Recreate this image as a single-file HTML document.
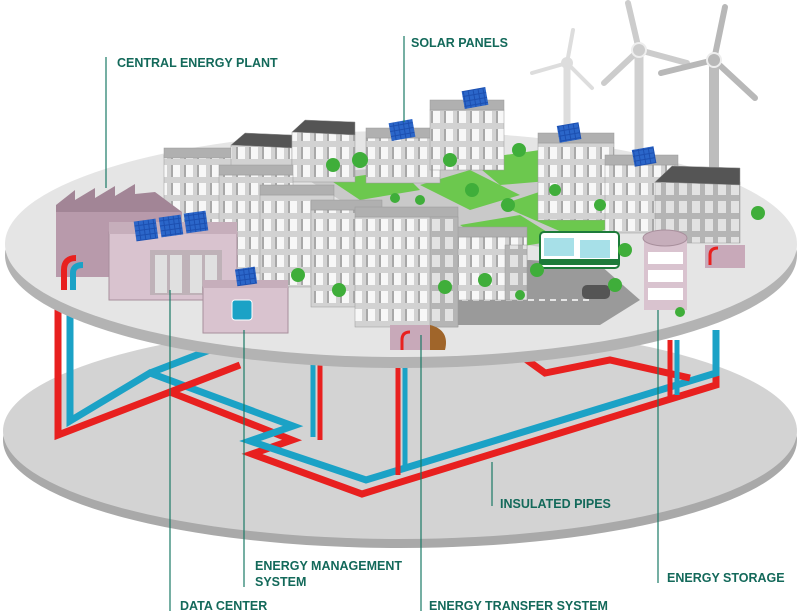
<!DOCTYPE html>
<html><head><meta charset="utf-8"><style>
html,body{margin:0;padding:0;background:#fff;}
svg{display:block}
text{font-family:"Liberation Sans",sans-serif;font-weight:bold;font-size:12.5px;fill:#13695a;}
</style></head><body>
<svg width="800" height="615" viewBox="0 0 800 615" xmlns="http://www.w3.org/2000/svg">
<defs>
<pattern id="win" x="0" y="0" width="13" height="18" patternUnits="userSpaceOnUse">
<rect width="13" height="18" fill="#d2d2d2"/><rect x="2" y="3" width="9" height="12" fill="#f7f7f7"/><rect x="2" y="3" width="2" height="12" fill="#a8a8a8"/>
</pattern>
<pattern id="winS" x="0" y="0" width="13" height="18" patternUnits="userSpaceOnUse">
<rect width="13" height="18" fill="#b5b5b5"/><rect x="3" y="3" width="8" height="12" fill="#e2e2e2"/>
</pattern>
<pattern id="sol" width="5" height="5" patternUnits="userSpaceOnUse"><rect width="5" height="5" fill="#1c4fb0"/><rect width="4" height="4" fill="#2b66c9"/></pattern>
</defs>

<!-- lower disk -->
<ellipse cx="400" cy="440" rx="397" ry="108" fill="#a9a9a9"/>
<ellipse cx="400" cy="431" rx="397" ry="108" fill="#d3d3d3"/>

<!-- pipes -->
<g fill="none" stroke-width="7" stroke-linejoin="miter">
<path d="M58 265 V435 L170 392 L292 440 L252 454 L362 494 L716 385 V330" stroke="#e8201f"/>
<path d="M70 265 V421 L150 373 L293 426 L250 441 L366 480 L716 373 V330" stroke="#1ba2c6"/>
<path d="M150 373 L215 348" stroke="#1ba2c6"/>
<path d="M170 392 L240 365" stroke="#e8201f"/>
<path d="M520 355 L545 373 L610 360 L690 378" stroke="#e8201f"/>
<path d="M320 355 V440" stroke="#e8201f" stroke-width="5"/>
<path d="M313 355 V437" stroke="#1ba2c6" stroke-width="5"/>
<path d="M398 365 V475" stroke="#e8201f" stroke-width="5"/>
<path d="M405 365 V470" stroke="#1ba2c6" stroke-width="5"/>
<path d="M670 340 V400" stroke="#e8201f" stroke-width="5"/>
<path d="M677 340 V395" stroke="#1ba2c6" stroke-width="5"/>
</g>

<!-- wind turbines -->
<g stroke-linecap="round">
<line x1="567" y1="63" x2="567" y2="135" stroke="#ddd" stroke-width="7"/>
<g stroke="#ddd" stroke-width="4"><line x1="567" y1="63" x2="573" y2="30"/><line x1="567" y1="63" x2="532" y2="73"/><line x1="567" y1="63" x2="592" y2="88"/></g>
<circle cx="567" cy="63" r="6" fill="#ddd"/>
<line x1="639" y1="50" x2="639" y2="155" stroke="#d0d0d0" stroke-width="9"/>
<g stroke="#ccc" stroke-width="6"><line x1="639" y1="50" x2="628" y2="3"/><line x1="639" y1="50" x2="604" y2="83"/><line x1="639" y1="50" x2="687" y2="63"/></g>
<circle cx="639" cy="50" r="7" fill="#ccc" stroke="#eee" stroke-width="2"/>
<line x1="714" y1="60" x2="714" y2="180" stroke="#bdbdbd" stroke-width="10"/>
<g stroke="#b8b8b8" stroke-width="6"><line x1="714" y1="60" x2="725" y2="7"/><line x1="714" y1="60" x2="661" y2="73"/><line x1="714" y1="60" x2="755" y2="98"/></g>
<circle cx="714" cy="60" r="7" fill="#b8b8b8" stroke="#eee" stroke-width="2"/>
</g>

<!-- upper disk -->
<ellipse cx="401" cy="255" rx="396" ry="113" fill="#b3b3b3"/>
<ellipse cx="401" cy="244" rx="396" ry="113" fill="#e5e5e5"/>

<!-- lawns and roads -->
<polygon points="300,175 470,160 640,215 560,250 430,230 340,200" fill="#c9c9c9"/>
<polygon points="330,180 400,170 420,190 360,200" fill="#6cc84e"/>
<polygon points="420,185 470,170 520,195 470,210" fill="#6cc84e"/>
<polygon points="470,160 540,150 560,180 500,185" fill="#6cc84e"/>
<polygon points="500,205 560,185 640,215 580,240" fill="#6cc84e"/>
<polygon points="460,225 520,215 560,240 500,250" fill="#6cc84e"/>
<path d="M430 262 L430 325 L600 325 L640 300 L600 265 L530 260 Z" fill="#9a9a9a"/>
<path d="M440 300 H590" stroke="#fff" stroke-dasharray="6 5" stroke-width="1.5"/>

<g stroke="#999" stroke-width="0.5">
<rect x="164" y="155" width="73" height="70" fill="url(#win)"/><rect x="164" y="148" width="73" height="10" fill="#b0b0b0"/>
<rect x="231" y="145" width="61" height="35" fill="url(#win)"/><polygon points="231,145 245,133 292,135 292,148" fill="#555"/>
<rect x="292" y="132" width="63" height="50" fill="url(#win)"/><polygon points="292,132 305,120 355,122 355,135" fill="#555"/>
<rect x="366" y="138" width="74" height="45" fill="url(#win)"/><rect x="366" y="128" width="74" height="10" fill="#b0b0b0"/>
<rect x="430" y="110" width="74" height="60" fill="url(#win)"/><rect x="430" y="100" width="74" height="10" fill="#b0b0b0"/>
<rect x="538" y="143" width="76" height="77" fill="url(#win)"/><rect x="538" y="133" width="76" height="10" fill="#b0b0b0"/>
<rect x="605" y="165" width="73" height="68" fill="url(#win)"/><rect x="605" y="155" width="73" height="10" fill="#b0b0b0"/>
<rect x="655" y="182" width="85" height="61" fill="url(#winS)"/><polygon points="655,182 672,166 740,168 740,185" fill="#555"/>
<rect x="219" y="175" width="74" height="98" fill="url(#win)"/><rect x="219" y="165" width="74" height="10" fill="#b0b0b0"/>
<rect x="260" y="195" width="74" height="92" fill="url(#win)"/><rect x="260" y="185" width="74" height="10" fill="#b0b0b0"/>
<rect x="311" y="210" width="71" height="97" fill="url(#win)"/><rect x="311" y="200" width="71" height="10" fill="#b0b0b0"/>
<rect x="355" y="217" width="103" height="110" fill="url(#win)"/><rect x="355" y="207" width="103" height="10" fill="#b0b0b0"/>
<rect x="453" y="237" width="74" height="63" fill="url(#win)"/><rect x="453" y="227" width="74" height="10" fill="#b0b0b0"/>
<rect x="430" y="217" width="28" height="110" fill="url(#winS)"/>
<rect x="505" y="245" width="22" height="55" fill="url(#winS)"/>
</g>

<!-- factory -->
<rect x="56" y="212" width="126" height="65" fill="#b89aab"/>
<polygon points="56,212 56,205 75,190 75,200 95,188 95,198 115,186 115,196 135,184 135,194 155,192 182,212" fill="#a28596"/>
<!-- pipe ends on top -->
<path d="M64 290 V270 Q64 258 76 258" stroke="#e8201f" stroke-width="6" fill="none"/>
<path d="M73 290 V273 Q73 265 83 265" stroke="#1ba2c6" stroke-width="6" fill="none"/>
<!-- data center -->
<rect x="109" y="232" width="128" height="68" fill="#d9c3cf" stroke="#a88f9c"/>
<rect x="109" y="222" width="128" height="12" fill="#c6aebb"/>
<rect x="150" y="250" width="72" height="45" fill="#bfb2b8"/>
<g fill="#e0e0e0"><rect x="155" y="255" width="12" height="38"/><rect x="170" y="255" width="12" height="38"/><rect x="190" y="255" width="12" height="38"/><rect x="205" y="255" width="12" height="38"/></g>
<rect x="135" y="220" width="22" height="20" fill="url(#sol)" transform="rotate(-8 146 230)"/>
<rect x="160" y="216" width="22" height="20" fill="url(#sol)" transform="rotate(-8 171 226)"/>
<rect x="185" y="212" width="22" height="20" fill="url(#sol)" transform="rotate(-8 196 222)"/>
<!-- EMS -->
<rect x="203" y="287" width="85" height="46" fill="#d9c3cf" stroke="#a88f9c"/>
<rect x="203" y="280" width="85" height="8" fill="#c6aebb"/>
<rect x="232" y="300" width="20" height="20" rx="3" fill="#1ba2c6" stroke="#fff"/>
<rect x="236" y="268" width="20" height="17" fill="url(#sol)" transform="rotate(-8 246 276)"/>
<!-- other solar -->
<rect x="390" y="121" width="24" height="18" fill="url(#sol)" transform="rotate(-10 402 130)"/>
<rect x="463" y="89" width="24" height="18" fill="url(#sol)" transform="rotate(-10 475 98)"/>
<rect x="558" y="124" width="22" height="17" fill="url(#sol)" transform="rotate(-10 569 132)"/>
<rect x="633" y="148" width="22" height="17" fill="url(#sol)" transform="rotate(-10 644 156)"/>
<!-- storage -->
<rect x="644" y="238" width="43" height="72" fill="#d9c3cf"/>
<g fill="#fff"><rect x="648" y="252" width="35" height="12"/><rect x="648" y="270" width="35" height="12"/><rect x="648" y="288" width="35" height="12"/></g>
<ellipse cx="665" cy="238" rx="22" ry="8" fill="#c6aebb" stroke="#a88f9c"/>
<!-- basements -->
<path d="M390 325 H430 V350 H390 Z" fill="#c8a9b9"/>
<path d="M430 325 Q450 330 445 350 H430 Z" fill="#a0652a"/>
<path d="M705 245 H745 V268 H705 Z" fill="#c8a9b9"/>
<path d="M402 350 V340 Q402 332 410 332" stroke="#e8201f" stroke-width="3" fill="none"/>
<path d="M710 265 V255 Q710 248 718 248" stroke="#e8201f" stroke-width="3" fill="none"/>
<!-- bus & car -->
<rect x="540" y="232" width="79" height="36" rx="4" fill="#fff" stroke="#1d7a3a" stroke-width="2"/>
<rect x="544" y="238" width="30" height="18" fill="#a7e0e8"/><rect x="580" y="240" width="30" height="18" fill="#a7e0e8"/>
<rect x="540" y="259" width="79" height="6" fill="#1d7a3a"/>
<rect x="582" y="285" width="28" height="14" rx="5" fill="#555"/>
<!-- trees -->
<g fill="#3fae3a">
<circle cx="333" cy="165" r="7"/><circle cx="360" cy="160" r="8"/><circle cx="450" cy="160" r="7"/><circle cx="519" cy="150" r="7"/>
<circle cx="472" cy="190" r="7"/><circle cx="508" cy="205" r="7"/><circle cx="555" cy="190" r="6"/><circle cx="600" cy="205" r="6"/>
<circle cx="625" cy="250" r="7"/><circle cx="537" cy="270" r="7"/><circle cx="485" cy="280" r="7"/><circle cx="615" cy="285" r="7"/>
<circle cx="298" cy="275" r="7"/><circle cx="339" cy="290" r="7"/><circle cx="445" cy="287" r="7"/><circle cx="758" cy="213" r="7"/>
<circle cx="680" cy="312" r="5"/><circle cx="520" cy="295" r="5"/><circle cx="395" cy="198" r="5"/><circle cx="420" cy="200" r="5"/>
</g>

<!-- leader lines -->
<g stroke="#1a7a66" stroke-width="1.2">
<line x1="106" y1="57" x2="106" y2="188"/>
<line x1="404" y1="36" x2="404" y2="122"/>
<line x1="492" y1="462" x2="492" y2="506"/>
<line x1="244" y1="330" x2="244" y2="587"/>
<line x1="170" y1="290" x2="170" y2="611"/>
<line x1="421" y1="335" x2="421" y2="611"/>
<line x1="658" y1="310" x2="658" y2="583"/>
</g>
<text x="117" y="67">CENTRAL ENERGY PLANT</text>
<text x="411" y="47">SOLAR PANELS</text>
<text x="500" y="508">INSULATED PIPES</text>
<text x="255" y="570">ENERGY MANAGEMENT</text>
<text x="255" y="586">SYSTEM</text>
<text x="180" y="610">DATA CENTER</text>
<text x="429" y="610">ENERGY TRANSFER SYSTEM</text>
<text x="667" y="582">ENERGY STORAGE</text>
</svg>
</body></html>
